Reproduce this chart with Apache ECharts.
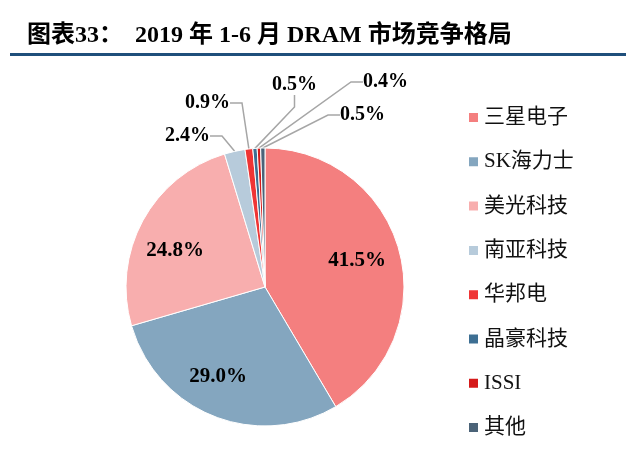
<!DOCTYPE html>
<html lang="zh-CN">
<head>
<meta charset="UTF-8" />
<title>2019年1-6月 DRAM 市场竞争格局</title>
<script src="https://cdn.jsdelivr.net/npm/echarts@6/dist/echarts.min.js"></script>
<style>
  html, body { margin: 0; padding: 0; background: #fff; }
  #dramChart { width: 626px; height: 463px; }
</style>
</head>
<body>
<div id="dramChart"></div>
<script>
  var chartNames = ['三星电子', 'SK海力士', '美光科技', '南亚科技', '华邦电', '晶豪科技', 'ISSI', '其他'];
  var chartValues = [41.5, 29.0, 24.8, 2.4, 0.9, 0.5, 0.4, 0.5];
  var chartColors = ['#F47F7F', '#84A6BF', '#F8AEAE', '#B7CBDB', '#EF3535', '#3D6F93', '#D51A1A', '#4B6378'];

  drawDramChart();

  function drawDramChart() {
    var el = document.getElementById('dramChart');
    var chart = echarts.init(el);

    // label anchor spots, same as the original layout
    var labelPos = {
      0: { x: 357, y: 261, align: 'center' },
      1: { x: 218, y: 377, align: 'center' },
      2: { x: 175, y: 251, align: 'center' },
      3: { x: 210, y: 136, align: 'right' },
      4: { x: 230, y: 103, align: 'right' },
      5: { x: 272, y: 85, align: 'left' },
      6: { x: 363, y: 82, align: 'left' },
      7: { x: 340, y: 115, align: 'left' }
    };

    var chartData = chartNames.map(function (name, i) {
      var item = { name: name, value: chartValues[i], itemStyle: { color: chartColors[i] } };
      if (chartValues[i] < 10) {
        item.label = { position: 'outside', fontSize: 20 };
        item.labelLine = { show: true };
      } else {
        item.label = { position: 'inside', fontSize: 21 };
        item.labelLine = { show: false };
      }
      return item;
    });

    var chartOption = {
      animation: false,
      title: {
        text: '图表33：  2019 年 1-6 月 DRAM 市场竞争格局',
        left: 27,
        top: 24,
        padding: 0,
        textStyle: {
          color: '#000',
          fontSize: 24,
          lineHeight: 24,
          fontWeight: 'bold',
          fontFamily: "'Liberation Serif', 'Noto Sans CJK SC'"
        }
      },
      graphic: [
        {
          type: 'line',
          shape: { x1: 10, y1: 54.5, x2: 626, y2: 54.5 },
          style: { stroke: '#1F4F7B', lineWidth: 3 }
        }
      ],
      legend: {
        orient: 'vertical',
        left: 467,
        top: 107,
        padding: 0,
        itemWidth: 11,
        itemHeight: 11,
        itemGap: 23.3,
        icon: 'rect',
        selectedMode: false,
        data: chartNames,
        textStyle: {
          color: '#111',
          fontSize: 21,
          lineHeight: 21,
          fontFamily: "'Liberation Serif', 'Noto Sans CJK SC'"
        }
      },
      series: [
        {
          type: 'pie',
          center: [265, 287],
          radius: [0, 139],
          startAngle: 90,
          clockwise: true,
          avoidLabelOverlap: false,
          itemStyle: { borderColor: '#fff', borderWidth: 1 },
          label: {
            show: true,
            formatter: function (p) { return p.value.toFixed(1) + '%'; },
            color: '#000',
            fontWeight: 'bold',
            fontFamily: "'Liberation Serif', 'Times New Roman', serif"
          },
          labelLine: {
            length: 10,
            length2: 12,
            smooth: false,
            lineStyle: { color: '#A6A6A6', width: 1.5 }
          },
          labelLayout: function (params) {
            var pos = labelPos[params.dataIndex];
            return { x: pos.x, y: pos.y, align: pos.align, verticalAlign: 'middle' };
          },
          data: chartData
        }
      ]
    };

    chart.setOption(chartOption);
  }
</script>
</body>
</html>
